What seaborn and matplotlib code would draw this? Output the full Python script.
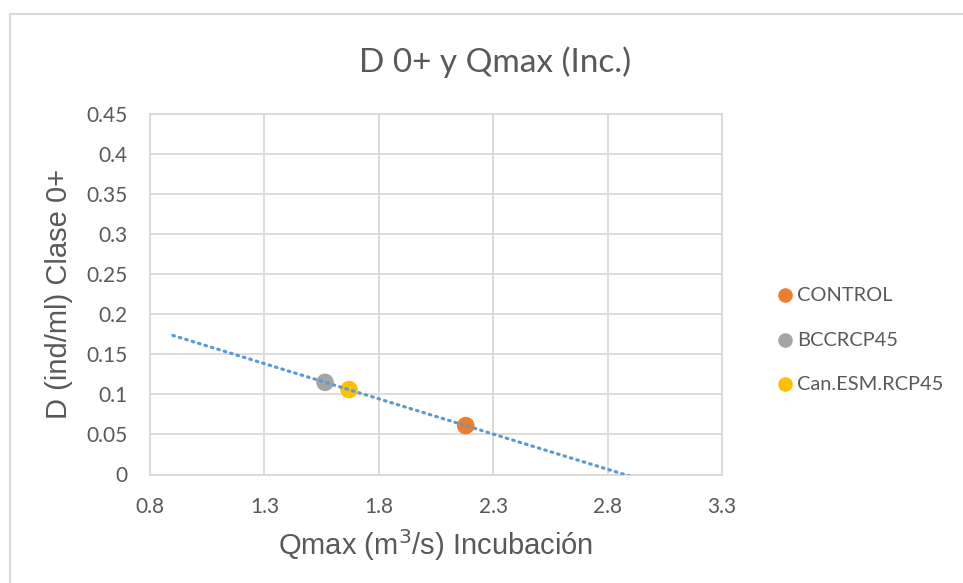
import numpy as np
import pandas as pd
import matplotlib
matplotlib.use("Agg")
import matplotlib.pyplot as plt
import seaborn as sns
from matplotlib.patches import Rectangle

series = ["CONTROL", "BCCRCP45", "Can.ESM.RCP45"]
qmax = [2.18, 1.565, 1.67]
dens = [0.061, 0.115, 0.106]
colors = ["#ED7D31", "#A5A5A5", "#FFC000"]
xticks = [0.8, 1.3, 1.8, 2.3, 2.8, 3.3]
yticks = [0, 0.05, 0.1, 0.15, 0.2, 0.25, 0.3, 0.35, 0.4, 0.45]
trend_range = [0.9, 3.0]

sns.set_style("white")
plt.rcParams['font.family'] = ['Lato', 'DejaVu Sans']

fig = plt.figure(figsize=(9.63, 5.83), dpi=100)
W, H = 963, 583
ax = fig.add_axes([150 / W, 1 - 474.5 / H, (722 - 150) / W, (474.5 - 114) / H])

df = pd.DataFrame({"Serie": series, "Qmax": qmax, "D": dens})

# trendline (linear fit of the series)
slope, intercept = np.polyfit(qmax, dens, 1)
tx = np.array(trend_range)
tdf = pd.DataFrame({"x": tx, "y": slope * tx + intercept})
sns.lineplot(data=tdf, x="x", y="y", ax=ax, color="#5B9BD5", lw=2.3,
             linestyle=(0, (0.5, 1.6)), dash_capstyle="round", zorder=4,
             legend=False)

sns.scatterplot(data=df, x="Qmax", y="D", hue="Serie", palette=colors,
                hue_order=series, s=160, edgecolor="none", ax=ax, zorder=3,
                legend=False)

ax.set_xlim(0.8, 3.3)
ax.set_ylim(0, 0.45)
ax.set_xticks(xticks)
ax.set_xticklabels([f"{v:g}" for v in xticks])
ax.set_yticks(yticks)
ax.set_yticklabels([f"{v:g}" for v in yticks])
ax.grid(True, color="#D9D9D9", lw=1.3)
ax.set_axisbelow(True)
for s in ax.spines.values():
    s.set_color("#D9D9D9")
    s.set_linewidth(1.3)
ax.tick_params(axis="both", length=0, labelsize=15, labelcolor="#595959")
ax.tick_params(axis="x", pad=16)
ax.tick_params(axis="y", pad=16)

ax.set_xlabel("Qmax (m$^3$/s) Incubación", fontsize=21, color="#595959",
              family="Liberation Sans")
ax.set_ylabel("D (ind/ml) Clase 0+", fontsize=21, color="#595959",
              family="Liberation Sans")
ax.xaxis.label.set_va("center")
ax.yaxis.label.set_va("center")
ax.xaxis.set_label_coords(0.5, (474.5 - 545) / 360.5)
ax.yaxis.set_label_coords((59 - 150) / 572, 0.5)

fig.text((358 + 632) / 2 / W, 1 - 62 / H, "D 0+ y Qmax (Inc.)", ha="center",
         va="center", fontsize=24, color="#595959")

# legend
leg_y = [295, 340, 384]
for name, c, yy in zip(series, colors, leg_y):
    fig.add_artist(plt.Line2D([785 / W], [1 - yy / H], marker="o", markersize=10.5,
                              color=c, markeredgecolor="none", linestyle="none",
                              transform=fig.transFigure))
    fig.text(797 / W, 1 - yy / H, name, ha="left", va="center", fontsize=14.4,
             color="#595959")

# chart border
fig.add_artist(Rectangle((10 / W, -0.1), 1.2, 1 - 14 / H + 0.1,
                         transform=fig.transFigure, fill=False,
                         edgecolor="#D9D9D9", lw=1.5))

fig.savefig("out.png", dpi=100)
